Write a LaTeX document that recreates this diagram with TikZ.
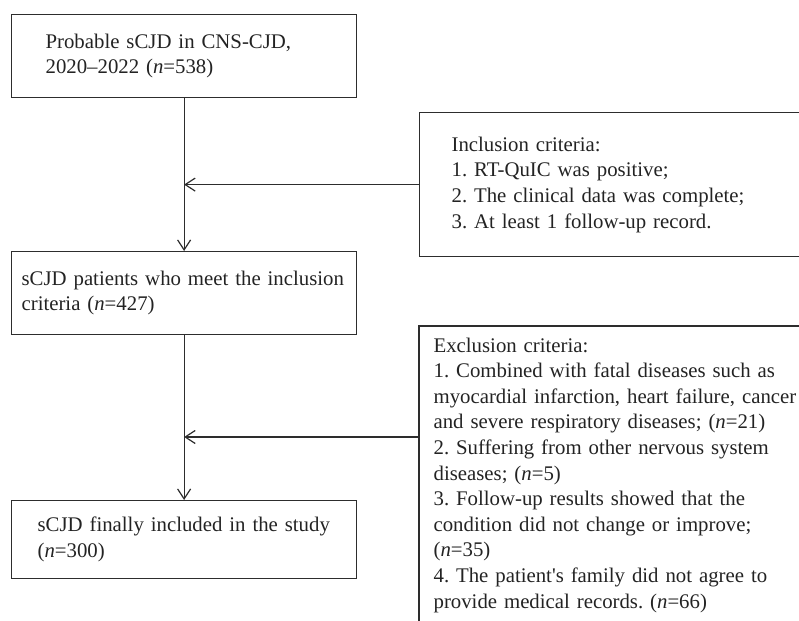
\documentclass[tikz,border=0pt]{standalone}
\usepackage{fontspec}
\setmainfont{Liberation Serif}
\usetikzlibrary{arrows.meta, positioning, calc}
\definecolor{boxline}{RGB}{45, 45, 45}
\definecolor{inktext}{RGB}{35, 35, 35}

\begin{document}
\begin{tikzpicture}[x=1pt, y=-1pt,
  flowbox/.style={draw=boxline, line width=1.2pt, anchor=north west, align=left,
    text=inktext, font=\fontsize{20.8}{25.6}\selectfont\frenchspacing, inner ysep=0pt},
  flowarrow/.style={boxline, line width=1.2pt,
    -{Straight Barb[length=10pt, width=13pt, line width=1.2pt]}}]
  \useasboundingbox (0,0) rectangle (799,620);
  \clip (0,0) rectangle (799,620);
  % Main flow
  \node[flowbox, minimum height=83pt, inner xsep=34pt, text width=277pt] (probable) at (11,14)
    {Probable sCJD in CNS-CJD,\\2020–2022 (\textit{n}=538)};
  \node[flowbox, minimum height=83pt, inner xsep=10pt, text width=325pt] (included) at (11,251)
    {sCJD patients who meet the inclusion\\criteria (\textit{n}=427)};
  \node[flowbox, minimum height=78pt, inner xsep=26pt, text width=293pt] (final) at (11,500)
    {sCJD finally included in the study\\(\textit{n}=300)};
  % Criteria boxes
  \node[flowbox, minimum height=144pt, inner xsep=32pt, text width=360pt] (incl) at (419,112)
    {Inclusion criteria:\\1. RT-QuIC was positive;\\2. The clinical data was complete;\\3. At least 1 follow-up record.};
  \node[flowbox, draw=none, inner xsep=14pt, inner ysep=11pt, text width=380pt] (excl) at (419,326)
    {Exclusion criteria:\\1. Combined with fatal diseases such as\\myocardial infarction, heart failure, cancer\\and severe respiratory diseases; (\textit{n}=21)\\2. Suffering from other nervous system\\diseases; (\textit{n}=5)\\3. Follow-up results showed that the\\condition did not change or improve;\\(\textit{n}=35)\\4. The patient\textquotesingle s family did not agree to\\provide medical records. (\textit{n}=66)};
  \draw[boxline, line width=1.2pt] (excl.north west) rectangle ([yshift=-60pt]excl.south east);
  \coordinate (excljoin) at ($(excl.north west)+(0,111)$);
  % Arrows
  \foreach \a/\b in {probable/included, included/final}
    \draw[flowarrow] (\a) -- (\b);
  \draw[flowarrow] (incl.west) -- (incl.west -| probable.south);
  \draw[flowarrow] (excljoin) -- (excljoin -| included.south);
\end{tikzpicture}
\end{document}
